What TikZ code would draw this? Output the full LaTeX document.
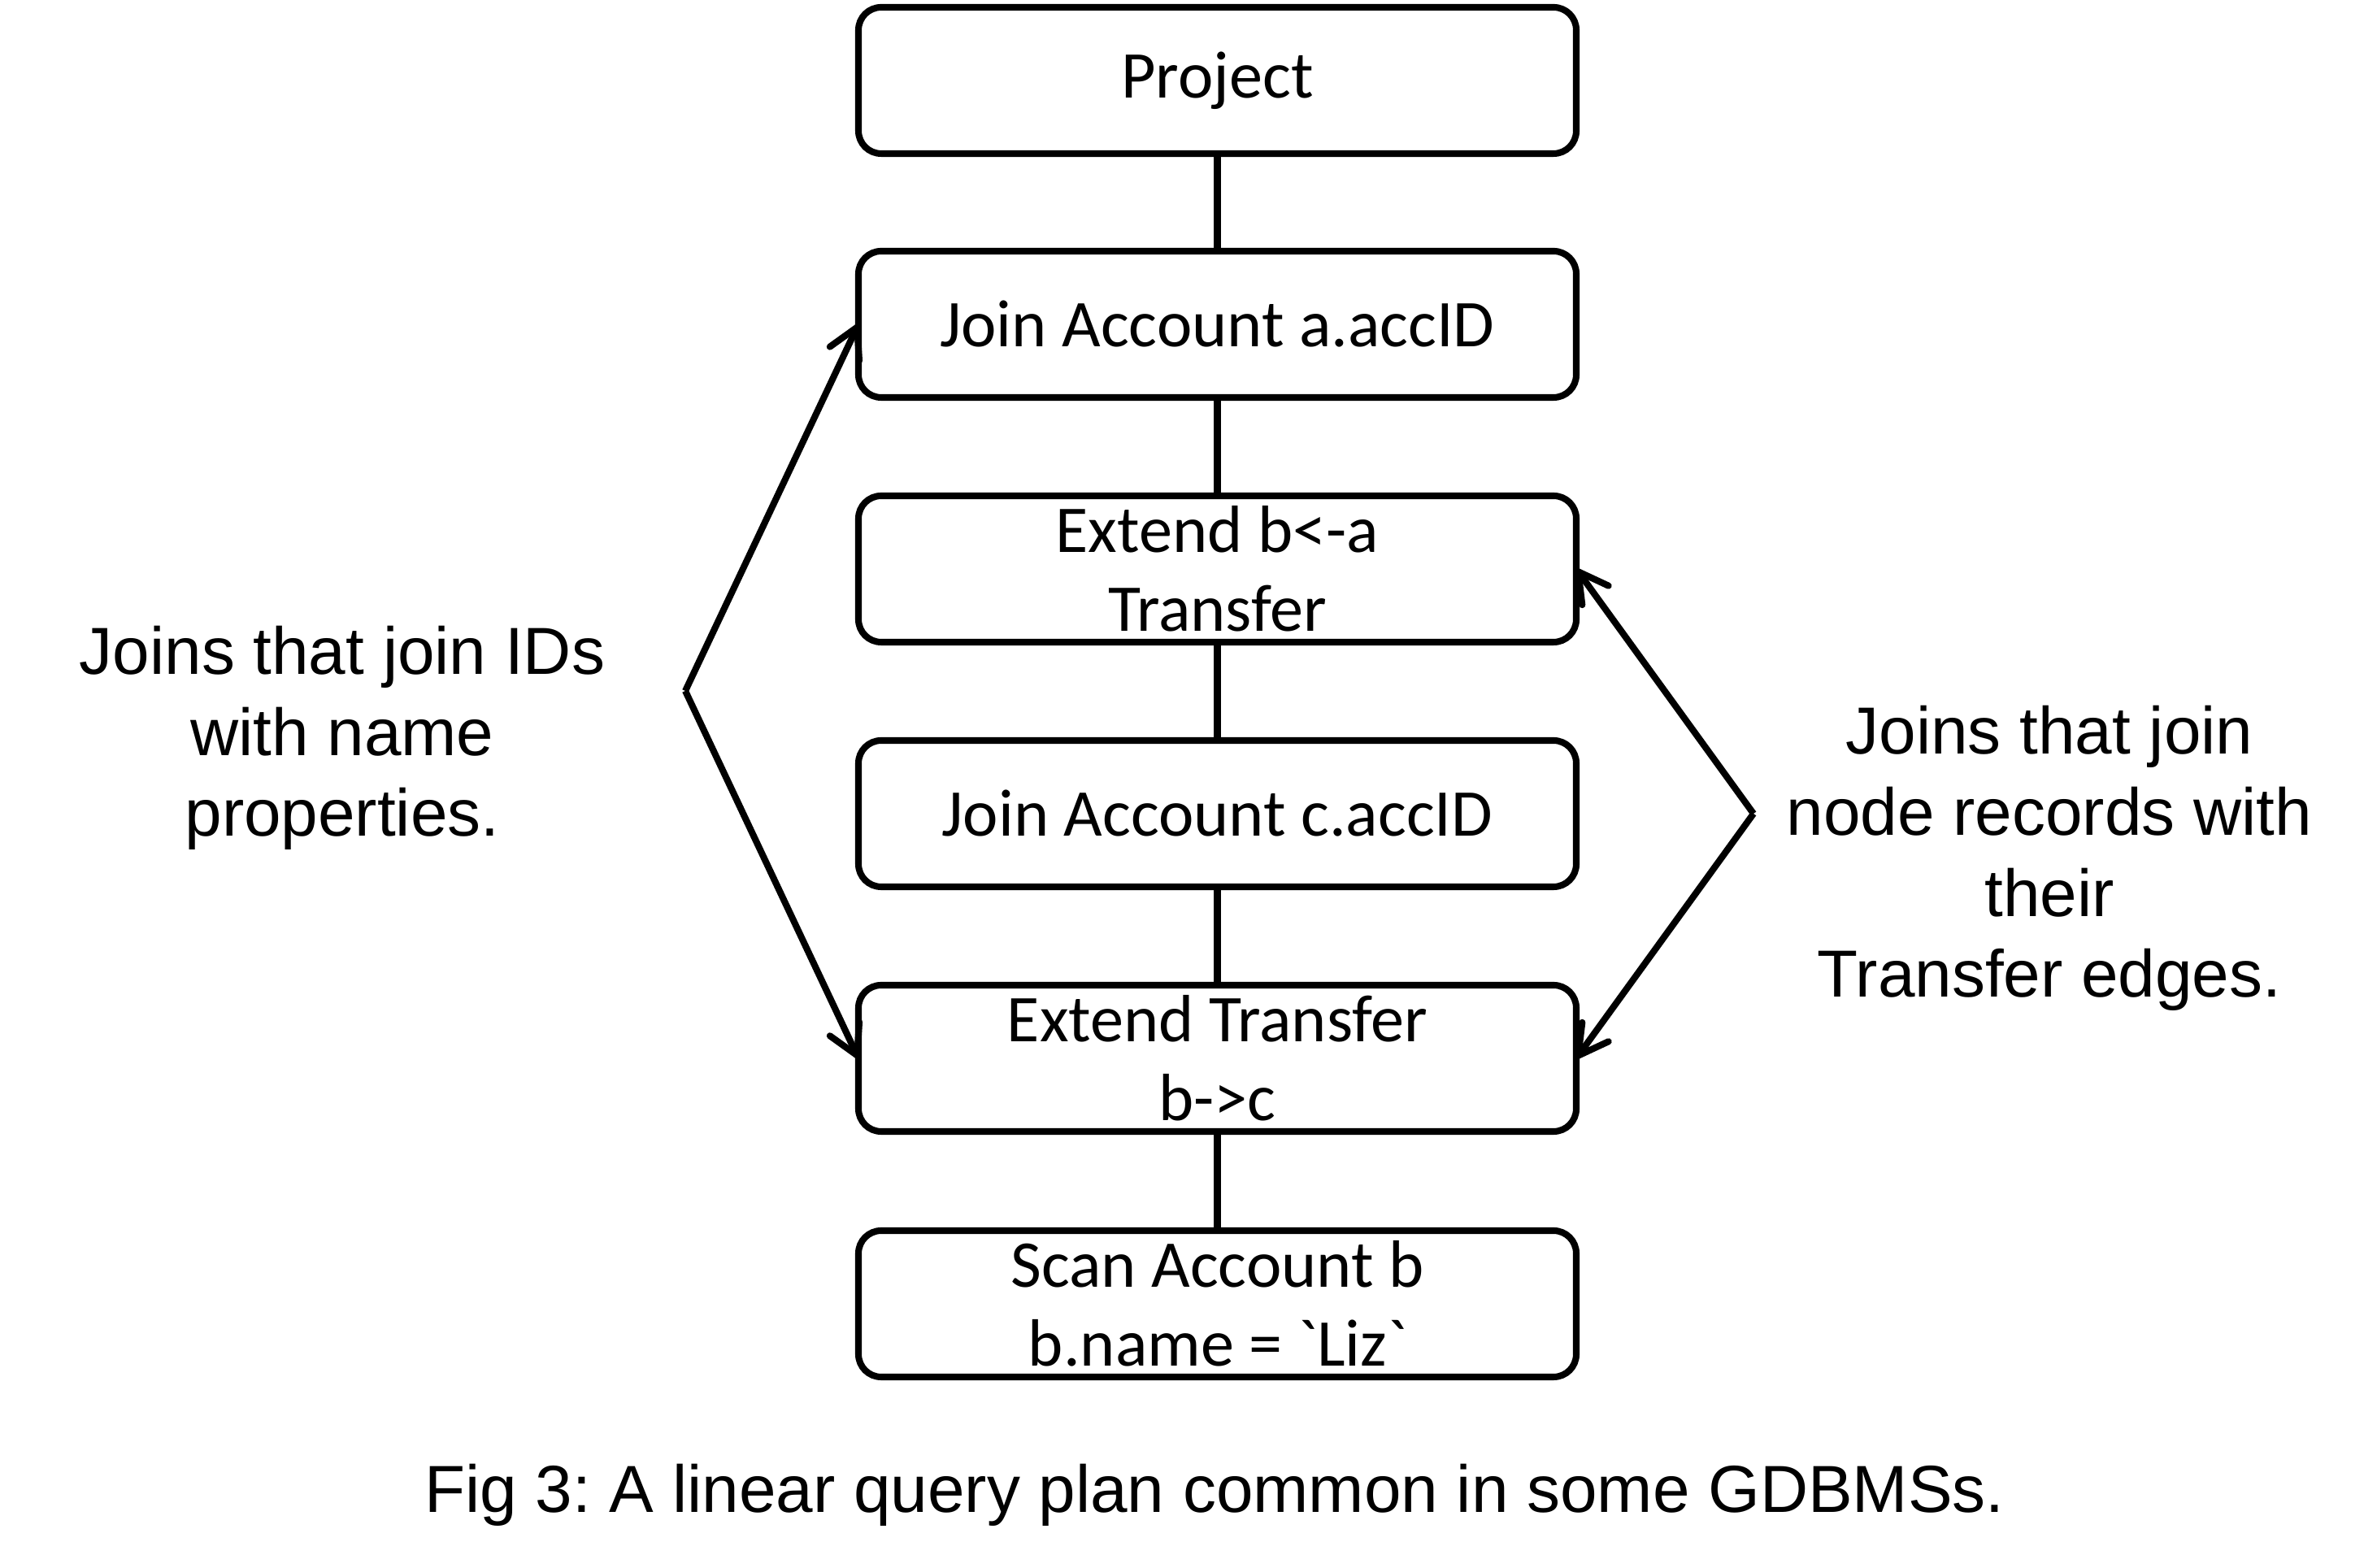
\documentclass[tikz,border=0pt]{standalone}
\usepackage{fontspec}
\setmainfont{Carlito}
\newfontfamily\arialfont{Liberation Sans}
\usetikzlibrary{arrows.meta}
\frenchspacing
\begin{document}
\begin{tikzpicture}[
  opbox/.style={draw, line width=2.3pt, rounded corners=0.28cm, minimum width=8.83cm, minimum height=1.80cm, inner sep=0pt, outer sep=0pt, align=center, font=\fontsize{23.4pt}{27.6pt}\selectfont},
  link/.style={line width=2.4pt},
  callout/.style={line width=2.3pt, -{Straight Barb[length=0.36cm, width=0.40cm, round]}},
  sidetext/.style={align=center, inner sep=0pt, font=\arialfont\fontsize{23.3pt}{28.4pt}\selectfont}
]
\useasboundingbox (0,0) rectangle (29.24,19.29);
\node[opbox] (p)  at (14.975,18.30) {Project};
\node[opbox] (j1) at (14.975,15.30) {Join Account a.accID};
\node[opbox] (e1) at (14.975,12.29) {Extend b<-a\\Transfer};
\node[opbox] (j2) at (14.975,9.28)  {Join Account c.accID};
\node[opbox] (e2) at (14.975,6.27)  {Extend Transfer\\b->c};
\node[opbox] (s)  at (14.975,3.25)  {Scan Account b\\b.name = \textasciigrave Liz\textasciigrave};
\draw[link] (p) -- (j1);
\draw[link] (j1) -- (e1);
\draw[link] (e1) -- (j2);
\draw[link] (j2) -- (e2);
\draw[link] (e2) -- (s);
\coordinate (la) at (8.43,10.79);
\coordinate (ra) at (21.57,9.28);
\draw[callout] (la) -- (j1.west);
\draw[callout] (la) -- (e2.west);
\draw[callout] (ra) -- (e1.east);
\draw[callout] (ra) -- (e2.east);
\node[sidetext] (lt) at (4.21,10.21) {Joins that join IDs\\with name\\properties.};
\node[sidetext] (rt) at (25.21,8.73) {Joins that join\\node records with\\their\\Transfer edges.};
\node[sidetext, anchor=base] (cap) at (14.94,0.68) {Fig 3: A linear query plan common in some GDBMSs.};
\end{tikzpicture}
\end{document}
